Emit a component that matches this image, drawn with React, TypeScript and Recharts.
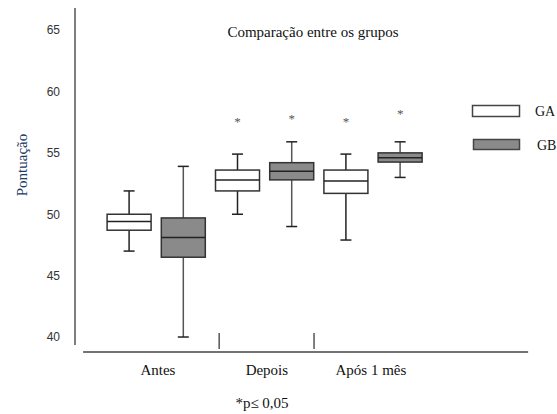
import React from "react";
import {
  ComposedChart,
  Bar,
  Scatter,
  XAxis,
  YAxis,
  ReferenceLine,
  Legend,
} from "recharts";

// one entry per box, left to right
const boxPositions = [1, 2, 3, 4, 5, 6];
const boxGroups = ["GA", "GB", "GA", "GB", "GA", "GB"];
const whiskerLow = [47.0, 40.0, 50.0, 49.0, 47.9, 53.0];
const quartile1 = [48.7, 46.5, 51.9, 52.8, 51.7, 54.25];
const medians = [49.4, 48.1, 52.8, 53.5, 52.7, 54.6];
const quartile3 = [50.0, 49.7, 53.6, 54.2, 53.6, 55.0];
const whiskerHigh = [51.9, 53.9, 54.9, 55.9, 54.9, 55.9];

// asterisks (p <= 0,05)
const sigPositions = [3, 4, 5, 6];
const sigValues = [57.7, 57.9, 57.7, 58.3];

const categories = ["Antes", "Depois", "Após 1 mês"];
const categoryTicks = [1.53, 3.54, 5.46];
const separatorTicks = [2.66, 4.41];
const yTicks = [40, 45, 50, 55, 60, 65];

const data = boxPositions.map((pos, i) => ({
  pos,
  group: boxGroups[i],
  min: whiskerLow[i],
  q1: quartile1[i],
  median: medians[i],
  q3: quartile3[i],
  max: whiskerHigh[i],
  range: [whiskerLow[i], whiskerHigh[i]],
}));

const sigData = sigPositions.map((pos, i) => ({ pos, sig: sigValues[i] }));

const serif = '"Liberation Serif", "Times New Roman", serif';
const sans = '"Liberation Sans", Arial, sans-serif';

const BoxShape = (props: any) => {
  const { x, y, width, height, payload } = props;
  const p = payload;
  const ppu = height / (p.max - p.min);
  const toY = (v: number) => y + (p.max - v) * ppu;
  const cx = x + width / 2;
  const isGA = p.group === "GA";
  const fill = isGA ? "#ffffff" : "#8a8a8a";
  const whisk = isGA ? "#222" : "#555";
  const cap = 5.5;
  return (
    <g>
      <line x1={cx} x2={cx} y1={toY(p.max)} y2={toY(p.q3)} stroke={whisk} strokeWidth={1.5} />
      <line x1={cx} x2={cx} y1={toY(p.q1)} y2={toY(p.min)} stroke={whisk} strokeWidth={1.5} />
      <line x1={cx - cap} x2={cx + cap} y1={toY(p.max)} y2={toY(p.max)} stroke="#222" strokeWidth={1.5} />
      <line x1={cx - cap} x2={cx + cap} y1={toY(p.min)} y2={toY(p.min)} stroke="#222" strokeWidth={1.5} />
      <rect
        x={x}
        y={toY(p.q3)}
        width={width}
        height={toY(p.q1) - toY(p.q3)}
        fill={fill}
        stroke="#333"
        strokeWidth={1.5}
      />
      <line x1={x} x2={x + width} y1={toY(p.median)} y2={toY(p.median)} stroke="#222" strokeWidth={1.5} />
    </g>
  );
};

const Asterisk = (props: any) => {
  const { cx, cy } = props;
  return (
    <text x={cx} y={cy + 6} textAnchor="middle" fontSize={13} fontFamily={serif} fill="#555">
      *
    </text>
  );
};

const LegendBox = () => (
  <svg width={90} height={60}>
    <rect x={2.5} y={5.5} width={47} height={11} fill="#ffffff" stroke="#444" strokeWidth={1.5} />
    <text x={65} y={16} fontSize={14} fontFamily={serif} fill="#111">
      GA
    </text>
    <rect x={3.5} y={39.5} width={46} height={10} fill="#8a8a8a" stroke="#444" strokeWidth={1.5} />
    <text x={67} y={50} fontSize={14} fontFamily={serif} fill="#111">
      GB
    </text>
  </svg>
);

export default function App() {
  return (
    <div style={{ position: "absolute", left: 0, top: 0, width: 557, height: 414, background: "#fff" }}>
      <ComposedChart
        width={557}
        height={414}
        data={data}
        margin={{ top: 8, right: 26.7, left: 0, bottom: 32 }}
      >
        <XAxis
          type="number"
          dataKey="pos"
          domain={[0, 8.4]}
          ticks={categoryTicks}
          interval={0}
          tickFormatter={(v: number) => categories[categoryTicks.indexOf(v)]}
          axisLine={false}
          tickLine={false}
          tickMargin={6}
          tick={{ fontSize: 15, fontFamily: serif, fill: "#111" }}
        />
        <YAxis
          type="number"
          domain={[38.78, 66.8]}
          ticks={yTicks}
          width={75}
          axisLine={false}
          tickLine={false}
          tickMargin={9}
          tick={{ fontSize: 12, fontFamily: sans, fill: "#333" }}
        />
        <Legend
          layout="vertical"
          align="center"
          verticalAlign="middle"
          wrapperStyle={{ position: "absolute", left: 470, top: 100, width: 90, height: 60 }}
          content={() => <LegendBox />}
        />
        {/* axis lines */}
        <ReferenceLine
          segment={[{ x: 0, y: 39.35 }, { x: 0, y: 66.8 }]}
          stroke="#555"
          strokeWidth={1.5}
          ifOverflow="visible"
        />
        <ReferenceLine
          segment={[{ x: 0.15, y: 38.78 }, { x: 8.36, y: 38.78 }]}
          stroke="#444"
          strokeWidth={1.5}
          ifOverflow="visible"
        />
        {separatorTicks.map((t) => (
          <ReferenceLine
            key={t}
            segment={[{ x: t, y: 39.02 }, { x: t, y: 40.33 }]}
            stroke="#555"
            strokeWidth={1.5}
            ifOverflow="visible"
          />
        ))}
        <Bar dataKey="range" barSize={44} shape={BoxShape} isAnimationActive={false} />
        <Scatter data={sigData} dataKey="sig" shape={Asterisk} isAnimationActive={false} />
      </ComposedChart>

      <div
        style={{
          position: "absolute",
          left: 213,
          top: 24,
          width: 200,
          textAlign: "center",
          fontFamily: serif,
          fontSize: 15,
          lineHeight: "16px",
          color: "#111",
        }}
      >
        Comparação entre os grupos
      </div>
      <div
        style={{
          position: "absolute",
          left: 22 - 50,
          top: 165 - 9,
          width: 100,
          textAlign: "center",
          transform: "rotate(-90deg)",
          fontFamily: serif,
          fontSize: 15,
          lineHeight: "18px",
          color: "#203864",
        }}
      >
        Pontuação
      </div>
      <div
        style={{
          position: "absolute",
          left: 212,
          top: 395,
          width: 100,
          textAlign: "center",
          fontFamily: serif,
          fontSize: 15,
          lineHeight: "16px",
          color: "#111",
        }}
      >
        *p≤ 0,05
      </div>
    </div>
  );
}
